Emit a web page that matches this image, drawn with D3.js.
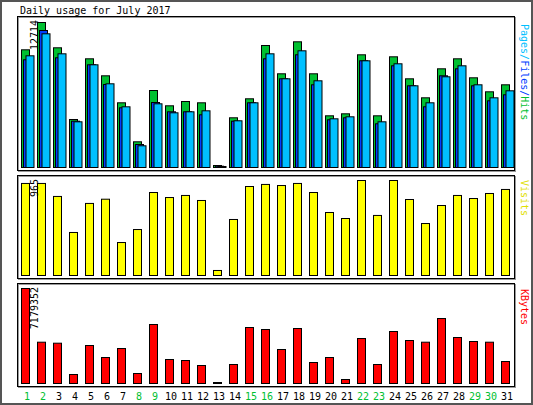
<!DOCTYPE html>
<html><head><meta charset="utf-8">
<script src="https://cdn.jsdelivr.net/npm/d3@7"></script>
<style>body{margin:0;background:#fff}text{font-family:"DejaVu Sans Mono",monospace;font-size:10px}</style>
</head><body>
<script>
var days = d3.range(1, 32);
var weekend = [1, 2, 8, 9, 15, 16, 22, 23, 29, 30];
var hits = [10320,12714,10496,4209,9531,8040,5673,2253,6751,5410,5787,5673,175,4358,6024,10697,8216,11021,8216,4533,4708,9882,4533,9706,7777,6111,8654,9531,7865,6637,7251];
var files = [9443,12012,9619,4060,9005,7277,5235,2017,5699,4884,4884,4621,114,4060,5673,9531,7777,9882,7251,4182,4358,9355,3832,8917,7163,5322,8040,8654,7163,5848,6374];
var pages = [9794,11723,9969,4007,9005,7339,5322,1903,5585,4796,4884,4971,88,4095,5673,9969,7777,10232,7602,4270,4445,9355,4007,9093,7163,5673,7953,8917,7251,6111,6725];
var visits = [935,935,803,437,732,775,335,467,843,792,813,762,51,569,904,925,914,935,843,640,579,965,610,965,772,528,711,813,782,833,874];
var kbytes = [7179352,3121124,3045552,680148,2871736,1964872,2645020,755720,4458748,1813728,1738156,1360296,75572,1435868,4232032,4080888,2569448,4156460,1587012,1964872,302288,3400740,1435868,3929744,3249596,3121124,4912180,3476312,3174024,3121124,1662584];

var W = 533, H = 405;
var svg = d3.select("body").append("svg").attr("width", W).attr("height", H);
svg.append("rect").attr("x", 1).attr("y", 1).attr("width", W - 2).attr("height", H - 2)
  .attr("fill", "#fff").attr("stroke", "#555").attr("stroke-width", 2);

var x = d3.scaleLinear().domain([1, 31]).range([21, 501]);

svg.append("text").attr("x", 20).attr("y", 14).text("Daily usage for July 2017");

function panel(top, bottom) {
  svg.append("rect").attr("x", 18.5).attr("y", top + 0.5).attr("width", 497).attr("height", bottom - top)
    .attr("fill", "none").attr("stroke", "#999").attr("stroke-width", 1);
  svg.append("rect").attr("x", 17.5).attr("y", top - 0.5).attr("width", 497).attr("height", bottom - top)
    .attr("fill", "none").attr("stroke", "#000").attr("stroke-width", 1);
}

function bars(data, y, base, dx, w, color) {
  svg.append("g").selectAll("rect").data(data).enter().append("rect")
    .attr("x", function(d, i) { return x(days[i]) + dx + 0.5; })
    .attr("y", function(d) { return y(d) + 0.5; })
    .attr("width", w)
    .attr("height", function(d) { return Math.max(1, base - y(d)); })
    .attr("fill", color).attr("stroke", "#000").attr("stroke-width", 1);
}

function ylabel(txt, top) {
  svg.append("text").attr("transform", "translate(38," + top + ") rotate(-90)")
    .attr("text-anchor", "end").text(txt);
}

function rlabel(parts, top) {
  var t = svg.append("text").attr("transform", "translate(521," + top + ") rotate(90)");
  parts.forEach(function(p) { t.append("tspan").attr("fill", p[1]).text(p[0]); });
}

// hits / files / pages
panel(17, 171);
var y1 = d3.scaleLinear().domain([0, d3.max(hits)]).range([167, 22]);
bars(hits, y1, 167, 0, 8, "#00c030");
bars(files, y1, 167, 2, 8, "#0040ff");
bars(pages, y1, 167, 4.5, 8, "#00c0ff");
ylabel(d3.max(hits), 20);
rlabel([["Pages", "#00c0ff"], ["/", "#00c0ff"], ["Files", "#0040ff"], ["/", "#0040ff"], ["Hits", "#00c030"]], 24);

// visits
panel(176, 279);
var y2 = d3.scaleLinear().domain([0, d3.max(visits)]).range([275, 180]);
bars(visits, y2, 275, 0, 8, "#ffff00");
ylabel(d3.max(visits), 179);
rlabel([["Visits", "#e0e000"]], 180);

// kbytes
panel(284, 387);
var y3 = d3.scaleLinear().domain([0, d3.max(kbytes)]).range([383, 288]);
bars(kbytes, y3, 383, 0, 8, "#ff0000");
ylabel(d3.max(kbytes), 287);
rlabel([["KBytes", "#ff0000"]], 289);

svg.append("g").selectAll("text").data(days).enter().append("text")
  .attr("x", function(d) { return x(d) + 6; })
  .attr("y", 400)
  .attr("text-anchor", "middle")
  .attr("fill", function(d) { return weekend.indexOf(d) >= 0 ? "#00c030" : "#000"; })
  .text(function(d) { return d; });
</script>
</body></html>
